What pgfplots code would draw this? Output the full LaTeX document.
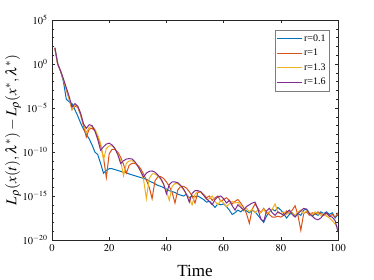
\documentclass[border=0pt]{standalone}
\usepackage{mathptmx}
\usepackage{fontspec}
\setmainfont{Liberation Serif}
\usepackage{pgfplots}
\usepackage{pgfplotstable}
\pgfplotsset{compat=1.18}
\definecolor{mblue}{rgb}{0,0.447,0.741}
\definecolor{morange}{rgb}{0.85,0.325,0.098}
\definecolor{myellow}{rgb}{0.929,0.694,0.125}
\definecolor{mpurple}{rgb}{0.494,0.184,0.556}
\definecolor{axgray}{rgb}{0.15,0.15,0.15}
% columns: t, log10 values for r=0.1, r=1, r=1.3, r=1.6
\pgfplotstableread{
t b o y p
1 1.8 1.8 1.8 1.87
2 0.0 0.0 0.0 0.0
3 -0.8 -0.8 -0.8 -0.8
4 -2.0 -1.8 -1.8 -1.7
5 -4.0 -2.9 -2.8 -2.7
6 -4.3 -4.0 -3.9 -3.7
7 -4.5 -5.2 -5.2 -4.9
8 -5.2 -4.8 -4.7 -4.5
9 -5.9 -4.9 -4.8 -4.8
10 -6.7 -5.8 -5.6 -5.6
11 -7.4 -7.0 -6.8 -6.8
12 -8.0 -8.3 -7.8 -7.3
13 -8.5 -7.4 -7.2 -6.9
14 -9.2 -7.3 -7.1 -7.0
15 -10.0 -7.6 -7.4 -7.6
16 -10.3 -8.3 -8.1 -8.6
17 -11.3 -9.3 -9.0 -9.8
18 -12.4 -10.6 -10.9 -9.4
19 -12.1 -12.9 -9.6 -9.1
20 -11.9 -10.2 -9.3 -9.0
21 -11.9 -9.7 -9.3 -9.2
22 -12.0 -9.7 -9.6 -9.6
23 -12.1 -10.0 -10.2 -10.3
24 -12.2 -10.6 -11.0 -11.3
25 -12.3 -11.4 -12.7 -11.0
26 -12.35 -12.4 -11.3 -10.8
27 -12.5 -11.5 -11.0 -10.75
28 -12.6 -11.3 -11.0 -10.8
29 -12.7 -11.3 -11.2 -11.1
30 -12.8 -11.5 -11.6 -11.6
31 -12.9 -11.9 -12.2 -12.2
32 -13.0 -12.5 -13.1 -12.85
33 -13.1 -13.2 -15.3 -12.4
34 -13.3 -14.0 -13.0 -12.2
35 -13.45 -15.3 -12.5 -12.15
36 -13.6 -13.3 -12.5 -12.3
37 -13.8 -12.8 -12.7 -12.6
38 -13.9 -12.8 -13.1 -13.0
39 -14.05 -13.0 -13.7 -13.6
40 -14.2 -13.4 -14.4 -14.75
41 -14.4 -13.9 -15.5 -13.7
42 -14.5 -14.6 -13.9 -13.4
43 -14.6 -15.8 -13.6 -13.4
44 -14.8 -14.3 -13.6 -13.5
45 -14.9 -13.9 -13.9 -13.8
46 -15.0 -13.9 -14.3 -14.2
47 -14.8 -14.1 -14.8 -14.8
48 -15.2 -14.5 -15.3 -15.7
49 -15.0 -15.0 -16.0 -14.7
50 -15.1 -15.8 -14.8 -14.4
51 -15.0 -14.6 -14.5 -14.4
52 -15.2 -14.6 -14.6 -14.5
53 -15.4 -14.8 -14.9 -14.9
54 -15.7 -15.2 -15.4 -15.3
55 -15.6 -15.0 -15.3 -15.6
56 -15.9 -15.5 -15.0 -16.0
57 -16.3 -15.2 -15.6 -15.4
58 -15.9 -15.0 -16.0 -15.1
59 -16.0 -15.6 -15.5 -15.0
60 -15.9 -15.4 -15.8 -15.3
61 -16.2 -15.2 -16.2 -15.8
62 -16.6 -15.5 -15.9 -15.5
63 -17.1 -15.9 -15.6 -16.1
64 -16.9 -15.6 -15.8 -16.6
65 -16.6 -15.4 -15.7 -16.0
66 -16.8 -15.8 -16.1 -16.3
67 -16.5 -16.3 -16.7 -16.6
68 -16.7 -17.0 -16.4 -16.2
69 -16.9 -18.1 -16.8 -16.0
70 -16.6 -16.5 -16.5 -15.8
71 -16.8 -15.9 -16.9 -15.7
72 -17.2 -16.4 -16.6 -16.5
73 -17.6 -16.9 -16.9 -17.6
74 -18.0 -16.4 -16.5 -17.9
75 -17.3 -16.8 -17.0 -16.7
76 -16.8 -17.1 -16.8 -16.4
77 -16.5 -17.4 -16.5 -16.9
78 -16.7 -17.4 -15.9 -17.2
79 -16.3 -17.3 -16.9 -16.8
80 -16.6 -17.4 -17.0 -17.0
81 -17.0 -17.2 -16.8 -17.2
82 -17.5 -16.7 -17.1 -16.9
83 -17.1 -17.0 -16.7 -16.6
84 -16.9 -16.6 -16.9 -17.1
85 -17.3 -16.1 -17.2 -17.4
86 -17.0 -17.2 -16.8 -17.0
87 -17.2 -18.9 -16.6 -16.7
88 -16.6 -17.0 -17.0 -16.4
89 -16.5 -16.8 -16.7 -16.5
90 -16.9 -17.2 -16.9 -17.0
91 -17.3 -16.9 -17.1 -17.3
92 -17.0 -17.1 -16.8 -17.6
93 -17.2 -16.8 -17.0 -17.7
94 -16.8 -17.0 -17.2 -17.5
95 -17.0 -17.2 -17.0 -17.1
96 -16.8 -17.0 -17.3 -16.9
97 -17.1 -17.3 -17.5 -17.3
98 -16.9 -17.1 -17.8 -17.4
99 -17.5 -17.4 -18.2 -17.8
100 -17.1 -16.9 -18.6 -19.1
}\datatable
\begin{document}
\begin{tikzpicture}
\path[use as bounding box] (-52pt,-40pt) rectangle (322pt,240pt);
\begin{axis}[
  at={(0pt,0pt)}, anchor=south west,
  scale only axis, width=286pt, height=220pt,
  xmin=0, xmax=100, ymin=-20, ymax=5,
  xtick={0,20,...,100},
  ytick={-20,-15,-10,-5,0,5},
  yticklabels={$10^{-20}$,$10^{-15}$,$10^{-10}$,$10^{-5}$,$10^{0}$,$10^{5}$},
  minor ytick={-19,-18,-17,-16,-14,-13,-12,-11,-9,-8,-7,-6,-4,-3,-2,-1,1,2,3,4},
  tick align=inside,
  major tick length=3pt, minor tick length=2pt,
  axis line style={axgray, line width=0.5pt},
  every tick/.style={axgray, line width=0.5pt},
  tick label style={font=\fontsize{10.5}{10.5}\selectfont, text=black},
  xticklabel style={yshift=-1pt},
  yticklabel style={xshift=-1pt},
  xlabel={Time},
  xlabel style={font=\fontsize{17}{17}\selectfont, at={(axis description cs:0.5,0)}, anchor=center, yshift=-31pt},
  ylabel={$L_\rho(x(t),\lambda^*)-L_\rho(x^*,\lambda^*)$},
  ylabel style={font=\fontsize{15}{15}\selectfont, at={(axis description cs:-0.136,0.5)}, anchor=center},
  legend style={at={(axis description cs:1,1)}, anchor=north east, xshift=-9pt, yshift=-10pt,
    draw=axgray!60, line width=0.5pt, fill=white, inner xsep=2pt, inner ysep=3pt,
    font=\fontsize{10}{10}\selectfont, row sep=3pt,
    nodes={inner sep=1.2pt, text height=7pt, text depth=2pt}},
  legend cell align=left,
  legend image code/.code={\draw[mark repeat=2,mark phase=2,#1] plot coordinates {(0pt,0pt) (12.5pt,0pt) (25pt,0pt)};},
  every axis plot/.append style={line width=1pt},
]
\addplot[mblue] table[x=t, y=b] {\datatable};
\addplot[morange] table[x=t, y=o] {\datatable};
\addplot[myellow] table[x=t, y=y] {\datatable};
\addplot[mpurple] table[x=t, y=p] {\datatable};
\legend{r=0.1, r=1, r=1.3, r=1.6}
\end{axis}
\end{tikzpicture}
\end{document}
